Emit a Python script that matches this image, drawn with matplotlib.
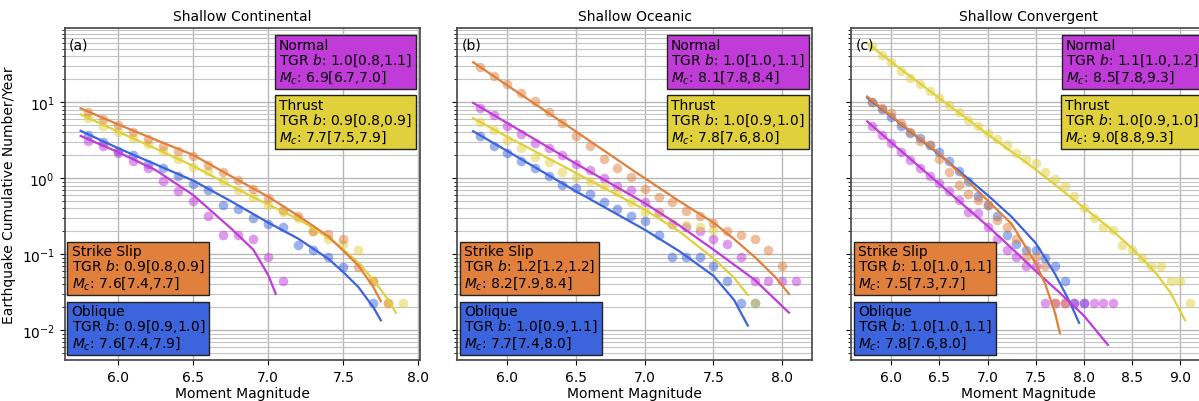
import matplotlib
matplotlib.use('Agg')
import matplotlib.pyplot as plt
from matplotlib.ticker import MultipleLocator

# colours of the four faulting styles
c_normal = '#c13bd9'
c_thrust = '#e0d03c'
c_strike = '#e0803c'
c_oblique = '#3c64dc'

# ---------- (a) shallow continental ----------
a_strike_mag = [5.8, 5.9, 6.0, 6.1, 6.2, 6.3, 6.4, 6.5, 6.6, 6.7, 6.8, 6.9, 7.0, 7.1, 7.2, 7.3, 7.4, 7.5, 7.6, 7.7, 7.8]
a_strike_rate = [7.4, 6.0, 5.0, 4.0, 3.3, 2.64, 2.3, 1.95, 1.5, 1.2, 0.94, 0.72, 0.55, 0.38, 0.32, 0.20, 0.185, 0.16, 0.067, 0.045, 0.023]
a_thrust_mag = [5.8, 5.9, 6.0, 6.1, 6.2, 6.3, 6.4, 6.5, 6.6, 6.7, 6.8, 6.9, 7.0, 7.1, 7.2, 7.3, 7.4, 7.5, 7.6, 7.7, 7.8, 7.9]
a_thrust_rate = [6.15, 4.9, 4.0, 3.36, 2.83, 2.3, 1.8, 1.4, 1.26, 0.93, 0.69, 0.56, 0.44, 0.36, 0.30, 0.20, 0.16, 0.136, 0.114, 0.045, 0.023, 0.023]
a_oblique_mag = [5.8, 5.9, 6.0, 6.1, 6.2, 6.3, 6.4, 6.5, 6.6, 6.7, 6.8, 6.9, 7.0, 7.1, 7.2, 7.3, 7.4, 7.5, 7.7]
a_oblique_rate = [3.7, 3.0, 2.3, 2.0, 1.54, 1.35, 1.06, 0.84, 0.69, 0.45, 0.39, 0.30, 0.25, 0.226, 0.134, 0.114, 0.091, 0.067, 0.023]
a_normal_mag = [5.8, 5.9, 6.0, 6.1, 6.2, 6.3, 6.4, 6.5, 6.6, 6.7, 6.8, 6.9, 7.0, 7.1]
a_normal_rate = [3.1, 2.64, 2.13, 1.7, 1.37, 0.93, 0.67, 0.50, 0.32, 0.18, 0.18, 0.16, 0.091, 0.045]

a_strike_fit_mag = [5.75, 6.0, 6.25, 6.5, 6.75, 7.0, 7.2, 7.4, 7.5, 7.6, 7.7, 7.75]
a_strike_fit = [8.3, 5.1, 3.2, 2.02, 1.07, 0.57, 0.32, 0.172, 0.111, 0.071, 0.037, 0.024]
a_thrust_fit_mag = [5.75, 6.0, 6.25, 6.5, 6.75, 7.0, 7.2, 7.4, 7.5, 7.6, 7.7, 7.8, 7.85]
a_thrust_fit = [6.9, 4.1, 2.45, 1.45, 0.79, 0.45, 0.29, 0.165, 0.115, 0.077, 0.046, 0.025, 0.017]
a_oblique_fit_mag = [5.75, 6.0, 6.25, 6.5, 6.75, 7.0, 7.2, 7.4, 7.5, 7.6, 7.7, 7.75]
a_oblique_fit = [4.2, 2.48, 1.52, 0.93, 0.50, 0.26, 0.16, 0.087, 0.058, 0.037, 0.020, 0.0135]
a_normal_fit_mag = [5.75, 6.0, 6.25, 6.5, 6.75, 6.9, 7.0, 7.05]
a_normal_fit = [3.6, 2.2, 1.28, 0.6, 0.22, 0.115, 0.053, 0.030]

# ---------- (b) shallow oceanic ----------
b_strike_mag = [5.8, 5.9, 6.0, 6.1, 6.2, 6.3, 6.4, 6.5, 6.6, 6.7, 6.8, 6.9, 7.0, 7.1, 7.2, 7.3, 7.4, 7.5, 7.6, 7.7, 7.8, 7.9, 8.0]
b_strike_rate = [28.9, 22.4, 17.4, 13.1, 10.3, 7.5, 5.3, 3.6, 2.69, 1.8, 1.37, 1.05, 0.72, 0.57, 0.48, 0.37, 0.32, 0.256, 0.205, 0.18, 0.159, 0.114, 0.069]
b_normal_mag = [5.8, 5.9, 6.0, 6.1, 6.2, 6.3, 6.4, 6.5, 6.6, 6.7, 6.8, 6.9, 7.0, 7.1, 7.2, 7.3, 7.4, 7.5, 7.6, 7.7, 7.8, 7.9, 8.0, 8.1]
b_normal_rate = [8.3, 6.7, 4.9, 3.83, 2.92, 2.53, 2.03, 1.54, 1.30, 1.0, 0.80, 0.70, 0.48, 0.36, 0.25, 0.226, 0.205, 0.159, 0.136, 0.091, 0.045, 0.045, 0.045, 0.045]
b_thrust_mag = [5.8, 5.9, 6.0, 6.1, 6.2, 6.3, 6.4, 6.5, 6.6, 6.7, 6.8, 6.9, 7.0, 7.1, 7.2, 7.3, 7.4, 7.5, 7.8]
b_thrust_rate = [5.5, 4.36, 3.2, 2.48, 1.89, 1.65, 1.2, 1.03, 0.91, 0.80, 0.65, 0.49, 0.36, 0.35, 0.25, 0.24, 0.23, 0.21, 0.0227]
b_oblique_mag = [5.8, 5.9, 6.0, 6.1, 6.2, 6.3, 6.4, 6.5, 6.6, 6.7, 6.8, 6.9, 7.0, 7.1, 7.2, 7.3, 7.4, 7.5, 7.6, 7.7, 7.8]
b_oblique_rate = [3.57, 2.64, 2.13, 1.7, 1.37, 1.08, 0.82, 0.74, 0.62, 0.48, 0.39, 0.32, 0.27, 0.18, 0.091, 0.091, 0.091, 0.069, 0.045, 0.0227, 0.0227]

b_strike_fit_mag = [5.75, 6.0, 6.5, 6.9, 7.25, 7.5, 7.65, 7.8, 7.95, 8.05]
b_strike_fit = [33.6, 16.6, 4.1, 1.32, 0.5, 0.26, 0.158, 0.092, 0.05, 0.030]
b_normal_fit_mag = [5.75, 6.0, 6.5, 7.0, 7.25, 7.5, 7.8, 8.05]
b_normal_fit = [9.8, 5.3, 1.55, 0.47, 0.24, 0.115, 0.046, 0.017]
b_thrust_fit_mag = [5.75, 6.0, 6.5, 7.0, 7.25, 7.5, 7.65, 7.75]
b_thrust_fit = [6.15, 3.5, 1.17, 0.385, 0.2, 0.088, 0.049, 0.029]
b_oblique_fit_mag = [5.75, 6.0, 6.5, 7.0, 7.25, 7.5, 7.65, 7.75]
b_oblique_fit = [4.15, 2.27, 0.67, 0.21, 0.11, 0.052, 0.025, 0.0115]

# ---------- (c) shallow convergent ----------
c_strike_mag = [5.8, 5.9, 6.0, 6.1, 6.2, 6.3, 6.4, 6.5, 6.6, 6.7, 6.8, 6.9, 7.0, 7.1, 7.2, 7.3, 7.4, 7.5, 7.6, 7.7, 7.8]
c_strike_rate = [10.2, 8.4, 7.2, 5.3, 4.0, 3.1, 2.7, 1.8, 1.22, 0.82, 0.62, 0.51, 0.44, 0.28, 0.226, 0.16, 0.093, 0.093, 0.069, 0.0227, 0.0227]
c_oblique_mag = [5.8, 5.9, 6.0, 6.1, 6.2, 6.3, 6.4, 6.5, 6.6, 6.7, 6.8, 6.9, 7.0, 7.1, 7.2, 7.3, 7.4, 7.5, 7.6, 7.7, 7.8, 7.9, 8.0]
c_oblique_rate = [10.2, 8.2, 6.35, 4.8, 3.9, 3.4, 2.74, 2.2, 1.7, 1.26, 0.93, 0.58, 0.44, 0.32, 0.18, 0.136, 0.114, 0.114, 0.089, 0.069, 0.045, 0.0227, 0.0227]
c_normal_mag = [5.8, 5.9, 6.0, 6.1, 6.2, 6.3, 6.4, 6.5, 6.6, 6.7, 6.8, 6.9, 7.0, 7.1, 7.2, 7.3, 7.4, 7.5, 7.6, 7.7, 7.8, 7.9, 8.0, 8.1, 8.2, 8.3]
c_normal_rate = [4.9, 3.7, 2.9, 2.2, 1.74, 1.35, 1.08, 0.87, 0.67, 0.51, 0.36, 0.35, 0.226, 0.16, 0.115, 0.091, 0.069, 0.069,
                 0.0227, 0.0227, 0.0227, 0.0227, 0.0227, 0.0227, 0.0227, 0.0227]
c_thrust_mag = [5.8, 5.9, 6.0, 6.1, 6.2, 6.3, 6.4, 6.5, 6.6, 6.7, 6.8, 6.9, 7.0, 7.1, 7.2, 7.3, 7.4,
                7.5, 7.6, 7.7, 7.8, 7.9, 8.0, 8.1, 8.2, 8.3, 8.4, 8.5, 8.6, 8.7, 8.8, 8.9, 9.0, 9.1]
c_thrust_rate = [55, 41.9, 33.6, 26, 20.7, 17.4, 14.2, 11.3, 9.2, 7.4, 5.9, 4.9, 3.94, 3.29, 2.74, 2.14, 1.8,
                 1.57, 1.2, 0.98, 0.80, 0.59, 0.40, 0.30, 0.226, 0.21, 0.134, 0.114, 0.089, 0.069, 0.069, 0.045, 0.045, 0.0227]

c_strike_fit_mag = [5.75, 6.0, 6.5, 7.0, 7.25, 7.5, 7.6, 7.7, 7.75]
c_strike_fit = [11.9, 6.6, 2.1, 0.51, 0.25, 0.076, 0.04, 0.017, 0.0092]
c_oblique_fit_mag = [5.75, 6.0, 6.5, 7.0, 7.25, 7.5, 7.7, 7.85, 7.95]
c_oblique_fit = [11.5, 6.5, 2.05, 0.6, 0.31, 0.14, 0.055, 0.024, 0.0125]
c_normal_fit_mag = [5.75, 6.0, 6.5, 7.0, 7.25, 7.5, 7.75, 8.0, 8.25]
c_normal_fit = [5.6, 2.95, 0.84, 0.235, 0.12, 0.06, 0.031, 0.0155, 0.0064]
c_thrust_fit_mag = [5.75, 6.0, 6.5, 7.0, 7.5, 8.0, 8.25, 8.5, 8.75, 8.9, 9.05]
c_thrust_fit = [60, 34, 11.3, 3.8, 1.3, 0.41, 0.23, 0.12, 0.056, 0.031, 0.0135]

# box texts: (b value, Mc) for Normal, Thrust, Strike Slip, Oblique
a_labels = [('1.0[0.8,1.1]', '6.9[6.7,7.0]'), ('0.9[0.8,0.9]', '7.7[7.5,7.9]'),
            ('0.9[0.8,0.9]', '7.6[7.4,7.7]'), ('0.9[0.9,1.0]', '7.6[7.4,7.9]')]
b_labels = [('1.0[1.0,1.1]', '8.1[7.8,8.4]'), ('1.0[0.9,1.0]', '7.8[7.6,8.0]'),
            ('1.2[1.2,1.2]', '8.2[7.9,8.4]'), ('1.0[0.9,1.1]', '7.7[7.4,8.0]')]
c_labels = [('1.1[1.0,1.2]', '8.5[7.8,9.3]'), ('1.0[0.9,1.0]', '9.0[8.8,9.3]'),
            ('1.0[1.0,1.1]', '7.5[7.3,7.7]'), ('1.0[1.0,1.1]', '7.8[7.6,8.0]')]

titles = ['Shallow Continental', 'Shallow Oceanic', 'Shallow Convergent']
tags = ['(a)', '(b)', '(c)']

panels = [
    dict(pts=[(a_oblique_mag, a_oblique_rate, c_oblique), (a_normal_mag, a_normal_rate, c_normal),
              (a_thrust_mag, a_thrust_rate, c_thrust), (a_strike_mag, a_strike_rate, c_strike)],
         fits=[(a_oblique_fit_mag, a_oblique_fit, c_oblique), (a_normal_fit_mag, a_normal_fit, c_normal),
               (a_thrust_fit_mag, a_thrust_fit, c_thrust), (a_strike_fit_mag, a_strike_fit, c_strike)],
         labels=a_labels),
    dict(pts=[(b_oblique_mag, b_oblique_rate, c_oblique), (b_normal_mag, b_normal_rate, c_normal),
              (b_thrust_mag, b_thrust_rate, c_thrust), (b_strike_mag, b_strike_rate, c_strike)],
         fits=[(b_oblique_fit_mag, b_oblique_fit, c_oblique), (b_normal_fit_mag, b_normal_fit, c_normal),
               (b_thrust_fit_mag, b_thrust_fit, c_thrust), (b_strike_fit_mag, b_strike_fit, c_strike)],
         labels=b_labels),
    dict(pts=[(c_oblique_mag, c_oblique_rate, c_oblique), (c_normal_mag, c_normal_rate, c_normal),
              (c_thrust_mag, c_thrust_rate, c_thrust), (c_strike_mag, c_strike_rate, c_strike)],
         fits=[(c_oblique_fit_mag, c_oblique_fit, c_oblique), (c_normal_fit_mag, c_normal_fit, c_normal),
               (c_thrust_fit_mag, c_thrust_fit, c_thrust), (c_strike_fit_mag, c_strike_fit, c_strike)],
         labels=c_labels),
]

W, H = 1199, 402
fig = plt.figure(figsize=(W / 100, H / 100), dpi=100)
lefts = [64.5, 457, 851]
ax_w, ax_top, ax_bot = 355, 29, 361

axes = []
for i, p in enumerate(panels):
    rect = [lefts[i] / W, (H - ax_bot) / H, ax_w / W, (ax_bot - ax_top) / H]
    ax = fig.add_axes(rect, sharey=axes[0] if axes else None)
    axes.append(ax)
    ax.set_yscale('log')
    ax.set_axisbelow(True)
    for m, r, col in p['pts']:
        ax.scatter(m, r, s=48, color=col, alpha=0.5, linewidths=0)
    for m, r, col in p['fits']:
        ax.plot(m, r, color=col, lw=1.6)
    ax.xaxis.set_major_locator(MultipleLocator(0.5))
    ax.grid(True, which='major', color='#b8b8b8', lw=1.0)
    ax.grid(True, which='minor', axis='y', color='#c4c4c4', lw=0.8)
    for sp in ax.spines.values():
        sp.set_color('#444444')
        sp.set_linewidth(1.2)
    ax.tick_params(labelsize=10)
    ax.set_title(titles[i], fontsize=10)
    ax.set_xlabel('Moment Magnitude', fontsize=10, labelpad=2)
    ax.text(0.012, 0.972, tags[i], transform=ax.transAxes, ha='left', va='top', fontsize=10)

    names = ['Normal', 'Thrust', 'Strike Slip', 'Oblique']
    cols = [c_normal, c_thrust, c_strike, c_oblique]
    spots = [((1, 1), (-7.5, -10), 'right', 'top'), ((1, 1), (-7.5, -70), 'right', 'top'),
             ((0, 0), (7, 69), 'left', 'bottom'), ((0, 0), (7, 9), 'left', 'bottom')]
    for name, col, (bv, mc), (xy, off, ha, va) in zip(names, cols, p['labels'], spots):
        txt = name + '\nTGR $b$: ' + bv + '\n$M_c$: ' + mc
        ax.annotate(txt, xy=xy, xycoords='axes fraction', xytext=off, textcoords='offset pixels',
                    ha=ha, va=va, multialignment='left', fontsize=10, linespacing=0.98, zorder=5,
                    bbox=dict(boxstyle='square,pad=0.3', fc=col, ec='#222222', lw=1.0))
    if i > 0:
        ax.tick_params(labelleft=False)

axes[0].set_ylabel('Earthquake Cumulative Number/Year', fontsize=10)

fig.savefig('out.png', dpi=100)
